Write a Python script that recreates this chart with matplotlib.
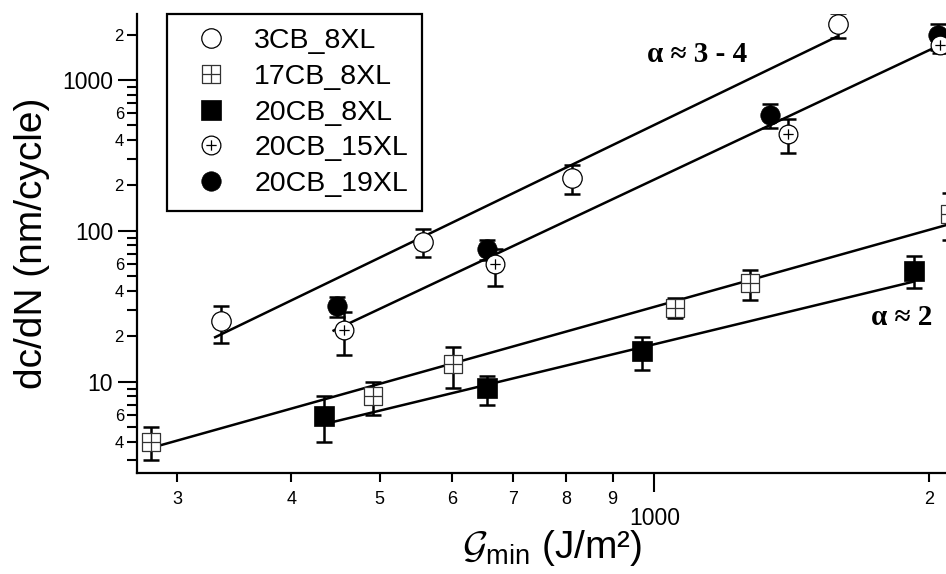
import numpy as np
import matplotlib
matplotlib.use('Agg')
import matplotlib.pyplot as plt
from matplotlib.path import Path
from matplotlib.lines import Line2D
from matplotlib.ticker import LogLocator, FuncFormatter

plt.rcParams['font.family'] = ['Liberation Sans', 'DejaVu Sans']
plt.rcParams['mathtext.fontset'] = 'custom'
plt.rcParams['mathtext.rm'] = 'Liberation Sans'
plt.rcParams['mathtext.cal'] = 'cmsy10'

# --- data (G_min in J/m^2, dc/dN in nm/cycle) ---
labels = ['3CB_8XL', '17CB_8XL', '20CB_8XL', '20CB_15XL', '20CB_19XL']

x_3cb8 = [335, 557, 812, 1589]
y_3cb8 = [25.3, 84.3, 223, 2339]
lo_3cb8 = [18.0, 66.8, 175.5, 1890]
hi_3cb8 = [31.9, 102.4, 273.3, 2767]

x_17cb8 = [281, 491, 602, 1054, 1273, 2110]
y_17cb8 = [4.0, 8.04, 13.0, 30.7, 44.9, 130]
lo_17cb8 = [3.03, 6.02, 9.04, 26.3, 34.8, 87]
hi_17cb8 = [4.99, 9.91, 16.9, 35.7, 55, 177]

x_20cb8 = [434, 656, 970, 1928]
y_20cb8 = [5.92, 9.04, 16.0, 54.2]
lo_20cb8 = [4.0, 7.0, 11.96, 41.6]
hi_20cb8 = [8.04, 10.9, 19.9, 68.1]

x_20cb15 = [457, 668, 1403, 2057]
y_20cb15 = [22.0, 60.0, 436, 1706]
lo_20cb15 = [15.0, 43.1, 327, 1503]
hi_20cb15 = [29.1, 75.8, 549, 1990]

x_20cb19 = [449, 655, 1340, 2048]
y_20cb19 = [31.8, 75.5, 586, 1988]
lo_20cb19 = [27.0, 64.1, 478, 1581]
hi_20cb19 = [36.6, 87.0, 693, 2350]

# power-law fit lines (end points)
fit_3cb_x = [330, 1585]
fit_3cb_y = [19.7, 1936]
fit_17cb_x = [280, 2110]
fit_17cb_y = [3.62, 111]
fit_20cb8_x = [443, 1923]
fit_20cb8_y = [5.38, 46.0]
fit_20cb_x = [445, 2057]
fit_20cb_y = [21.8, 1706]


def yerr(y, lo, hi):
    y = np.array(y)
    return [y - np.array(lo), np.array(hi) - y]


# custom markers: square with a cross, circle with a plus
sq_plus = Path([(-1, -1), (1, -1), (1, 1), (-1, 1), (-1, -1), (0, -1), (0, 1), (-1, 0), (1, 0)],
               [Path.MOVETO, Path.LINETO, Path.LINETO, Path.LINETO, Path.CLOSEPOLY,
                Path.MOVETO, Path.LINETO, Path.MOVETO, Path.LINETO])
circ_plus = Path.make_compound_path(Path.unit_circle(),
                                   Path([(-0.55, 0), (0.55, 0)]),
                                   Path([(0, -0.55), (0, 0.55)]))

styles = {
    '3CB_8XL': dict(marker='o', ms=14, mfc='white', mec='black', mew=0.9),
    '17CB_8XL': dict(marker=sq_plus, ms=13.5, mfc='white', mec='#333333', mew=0.9),
    '20CB_8XL': dict(marker='s', ms=14.5, mfc='black', mec='black', mew=0.5),
    '20CB_15XL': dict(marker=circ_plus, ms=13.5, mfc='white', mec='black', mew=0.9),
    '20CB_19XL': dict(marker='o', ms=14, mfc='black', mec='black', mew=0.5),
}

fig = plt.figure(figsize=(9.46, 5.74), dpi=100)
ax = fig.add_axes([0.1445, 0.1765, 0.8555, 0.7991])
ax.set_xscale('log')
ax.set_yscale('log')

# fit lines
for fx, fy in [(fit_3cb_x, fit_3cb_y), (fit_17cb_x, fit_17cb_y),
               (fit_20cb8_x, fit_20cb8_y), (fit_20cb_x, fit_20cb_y)]:
    ax.plot(fx, fy, '-', color='black', lw=1.8, zorder=2)

# points with error bars (19XL drawn before 15XL so the open ones sit on top)
series = [('3CB_8XL', x_3cb8, y_3cb8, lo_3cb8, hi_3cb8),
          ('17CB_8XL', x_17cb8, y_17cb8, lo_17cb8, hi_17cb8),
          ('20CB_8XL', x_20cb8, y_20cb8, lo_20cb8, hi_20cb8),
          ('20CB_19XL', x_20cb19, y_20cb19, lo_20cb19, hi_20cb19),
          ('20CB_15XL', x_20cb15, y_20cb15, lo_20cb15, hi_20cb15)]
for i, (name, x, y, lo, hi) in enumerate(series):
    ax.errorbar(x, y, yerr=yerr(y, lo, hi), fmt='none', ecolor='black',
                elinewidth=1.8, capsize=6, capthick=1.8, zorder=3 + i)
    ax.plot(x, y, ls='none', zorder=3.5 + i, **styles[name])

ax.set_xlim(270.7, 2088)
ax.set_ylim(2.49, 2738)

# ticks
def lead_digit(v, pos):
    d = v / 10 ** np.floor(np.log10(v) + 1e-9)
    return f'{d:.0f}'

def lead_digit_even(v, pos):
    s = lead_digit(v, pos)
    return s if s in ('2', '4', '6') else ''

ax.xaxis.set_major_locator(LogLocator(base=10))
ax.xaxis.set_minor_locator(LogLocator(base=10, subs=np.arange(2, 10)))
ax.yaxis.set_major_locator(LogLocator(base=10))
ax.yaxis.set_minor_locator(LogLocator(base=10, subs=np.arange(2, 10)))
ax.xaxis.set_major_formatter(FuncFormatter(lambda v, p: f'{v:.0f}'))
ax.yaxis.set_major_formatter(FuncFormatter(lambda v, p: f'{v:.0f}'))
ax.xaxis.set_minor_formatter(FuncFormatter(lead_digit))
ax.yaxis.set_minor_formatter(FuncFormatter(lead_digit_even))

ax.tick_params(which='both', direction='out', width=1.5, color='black')
ax.tick_params(axis='x', which='major', length=13.5, pad=11, labelsize=16.5)
ax.tick_params(axis='x', which='minor', length=6.5, pad=6.5, labelsize=13)
ax.tick_params(axis='y', which='major', length=13.5, pad=3.5, labelsize=16.5)
ax.tick_params(axis='y', which='minor', length=7.2, pad=2, labelsize=12)

for side in ['top', 'right']:
    ax.spines[side].set_visible(False)
for side in ['left', 'bottom']:
    ax.spines[side].set_linewidth(1.6)

ax.set_ylabel('dc/dN (nm/cycle)', fontsize=28)
ax.yaxis.set_label_coords(-0.107, 0.5)
ax.set_xlabel(r'$\mathcal{G}_{\mathrm{min}}$ (J/m²)', fontsize=28)
ax.xaxis.set_label_coords(0.513, -0.12)

# slope annotations
ax.text(1114, 1465, 'α ≈ 3 - 4', family='Liberation Serif', weight='bold',
        fontsize=21, ha='center', va='center')
ax.text(1869, 26.8, 'α ≈ 2', family='Liberation Serif', weight='bold',
        fontsize=21, ha='center', va='center')

# legend with marker-only handles
handles = [Line2D([], [], ls='none', **styles[n]) for n in labels]
leg = ax.legend(handles, labels, loc='upper left', bbox_to_anchor=(0.1769, 0.9756),
                bbox_transform=fig.transFigure, borderaxespad=0, fontsize=20.5,
                handlelength=2.1, handletextpad=0.45, labelspacing=0.34,
                borderpad=0.5, fancybox=False, framealpha=1, edgecolor='black')
leg.get_frame().set_linewidth(1.6)

fig.savefig('out.png', dpi=100)
